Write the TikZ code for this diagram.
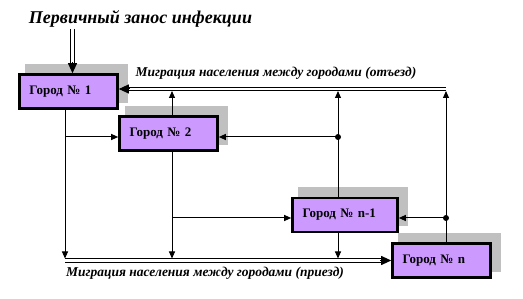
\documentclass[tikz,border=0pt]{standalone}
\usepackage{fontspec}
\setmainfont{Liberation Serif}
\usepackage{xcolor}
\usepackage{tikz}
\usetikzlibrary{arrows.meta,positioning,calc}
\definecolor{CityViolet}{HTML}{CC99FF}
\definecolor{ShadowGray}{HTML}{C0C0C0}
\tikzset{
  citybox/.style={draw=black,line width=2.6pt,fill=CityViolet,minimum height=34pt,
    inner xsep=10pt,inner ysep=0pt,text width=78pt,align=left,
    font=\fontsize{13}{15}\selectfont\bfseries,
    preaction={fill=ShadowGray,draw=ShadowGray,line width=5pt,
      transform canvas={xshift=8pt,yshift=8pt}}},
  flow/.style={line width=1pt,-{Triangle[length=7pt,width=6pt]}},
  bus/.style={double,double distance=2.5pt,line width=1pt,shorten >=8pt},
  bushead/.style={line width=1pt,-{Triangle[length=10pt,width=9pt]}},
  junction/.style={circle,fill=black,inner sep=0pt,minimum size=6pt},
  caption/.style={font=\fontsize{13.5}{15}\selectfont\bfseries\itshape}
}

\begin{document}
\begin{tikzpicture}[x=1pt,y=-1pt]
    \useasboundingbox (0,0) rectangle (523,299);
    \node[citybox] (city1) at (68.5,91.5) {Город № 1};
    \node[citybox] (city2) at (168.5,133.5) {Город № 2};
    \node[citybox,text width=85pt] (cityN1) at (345,215) {Город № n-1};
    \node[citybox] (cityN) at (441.5,260.5) {Город № n};

    \node[font=\fontsize{18}{20}\selectfont\bfseries\itshape] (infect) at (140.5,19) {Первичный занос инфекции};
    \node[caption] (outLabel) at (276,73) {Миграция населения между городами (отъезд)};
    \node[caption] (inLabel) at (205,273) {Миграция населения между городами (приезд)};

    \coordinate (entry) at (72.5,29);
    \coordinate (outEnd) at (446,89);
    \coordinate (inStart) at (65,260.5);
    \coordinate (up2) at (172,91);
    \coordinate (up3) at (338,91);
    \coordinate (upN) at (446,91);
    \coordinate (down1) at (65,258.5);
    \coordinate (down2) at (172,258.5);
    \coordinate (down3) at (338,258.5);
    \coordinate (fork1) at (65,137);
    \coordinate (fork2) at (172,218);
    \node[junction] (dotA) at (338,137) {};
    \node[junction] (dotB) at (446,218) {};

    \draw[bus] (entry) -- (entry |- city1.north);
    \draw[bushead] ($(entry |- city1.north)+(0,-11)$) -- (entry |- city1.north);
    \draw[bus] (outEnd) -- (outEnd -| city1.east);
    \draw[bushead] ($(outEnd -| city1.east)+(11,0)$) -- (outEnd -| city1.east);
    \draw[bus] (inStart) -- (cityN.west);
    \draw[bushead] ($(cityN.west)+(-11,0)$) -- (cityN.west);

    \draw[flow] (up2 |- city2.north) -- (up2);
    \draw[flow] (up3 |- cityN1.north) -- (up3);
    \draw[flow] (upN |- cityN.north) -- (upN);
    \draw[flow] (dotA.center) -- (dotA.center -| city2.east);
    \draw[flow] (dotB.center) -- (dotB.center -| cityN1.east);

    \draw[flow] (down1 |- city1.south) -- (down1);
    \draw[flow] (down2 |- city2.south) -- (down2);
    \draw[flow] (down3 |- cityN1.south) -- (down3);
    \draw[flow] (fork1) -- (fork1 -| city2.west);
    \draw[flow] (fork2) -- (fork2 -| cityN1.west);
  \end{tikzpicture}
\end{document}
